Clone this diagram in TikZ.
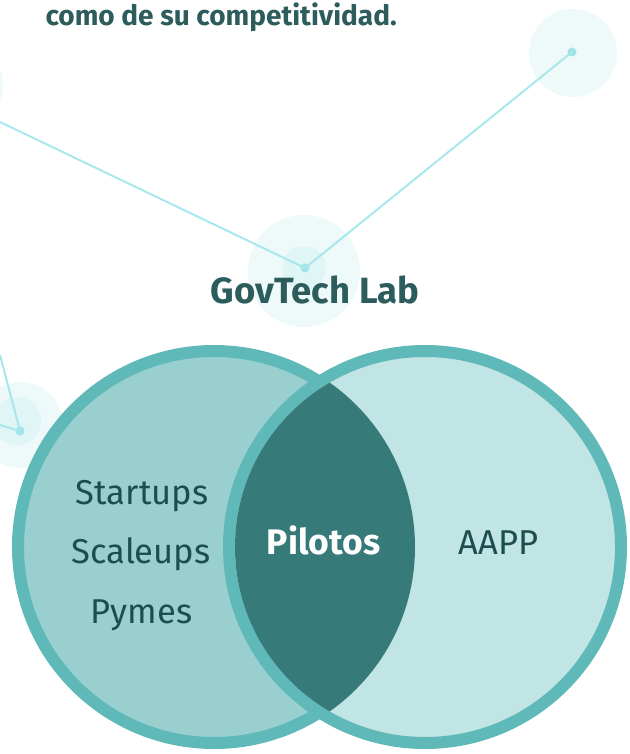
\documentclass[tikz,border=0pt]{standalone}
\usepackage{fontspec}
\setmainfont{Fira Sans}
\definecolor{haloA}{HTML}{EEF9F9}
\definecolor{haloB}{HTML}{DFF5F6}
\definecolor{netc}{HTML}{A8E8EC}
\definecolor{dotc}{HTML}{A0E4E8}
\definecolor{leftfill}{HTML}{99CFCF}
\definecolor{rightfill}{HTML}{C1E4E4}
\definecolor{ringc}{HTML}{5FB9B9}
\definecolor{lensc}{HTML}{367B7A}
\definecolor{headc}{HTML}{2C5C5B}
\definecolor{listc}{HTML}{1E4D4D}
\tikzset{
  net/.style={draw=netc, line width=2pt},
  netdot/.style={circle, fill=dotc, inner sep=0pt, minimum size=9pt},
  ringline/.style={draw=ringc, line width=12pt},
  listtext/.style={anchor=base, text=listc, font=\fontsize{34.5}{34.5}\selectfont},
  boldtext/.style={anchor=base, font=\fontsize{35.5}{35.5}\selectfont\bfseries},
}
\begin{document}
\begin{tikzpicture}[x=1pt,y=-1pt]
\useasboundingbox (0,0) rectangle (629,754);
% halos
\fill[haloA] (573,53) circle (44);
\fill[haloA] (-40,85) circle (43);
\fill[haloA] (304,271) circle (56);
\fill[haloB] (304,268) circle (22);
\fill[haloA] (20,425) circle (43);
\fill[haloB] (17,421) circle (24);
% network
\node[netdot] (n1) at (572,52) {};
\node[netdot] (n2) at (305,268) {};
\node[netdot] (n3) at (20,431) {};
\coordinate (e1) at (0,122);
\coordinate (e2) at (0,355);
\coordinate (e3) at (0,425);
\draw[net] (e1) -- (n2.center);
\draw[net] (n2.center) -- (n1.center);
\draw[net] (e2) -- (n3.center);
\draw[net] (e3) -- (n3.center);
% top text
\node[anchor=base west, text=headc, font=\fontsize{28}{28}\selectfont\bfseries] (top) at (42,26) {como de su competitividad.};
% title
\node[anchor=base, text=headc, font=\fontsize{36.5}{36.5}\selectfont\bfseries] (title) at (315,303) {GovTech Lab};
% venn
\fill[leftfill] (214,547) circle (196);
\draw[ringline] (214,547) circle (196);
\fill[rightfill] (425,547) circle (196);
\draw[ringline] (425,547) circle (196);
\begin{scope}
  \clip (214,547) circle (201);
  \fill[lensc] (425,547) circle (190);
\end{scope}
% labels
\node[listtext] (s1) at (142,504) {Startups};
\node[listtext] (s2) at (141,563) {Scaleups};
\node[listtext] (s3) at (141.5,623) {Pymes};
\node[boldtext, text=white] (pil) at (323.5,554) {Pilotos};
\node[listtext] (aapp) at (498.5,554) {AAPP};
\end{tikzpicture}
\end{document}
